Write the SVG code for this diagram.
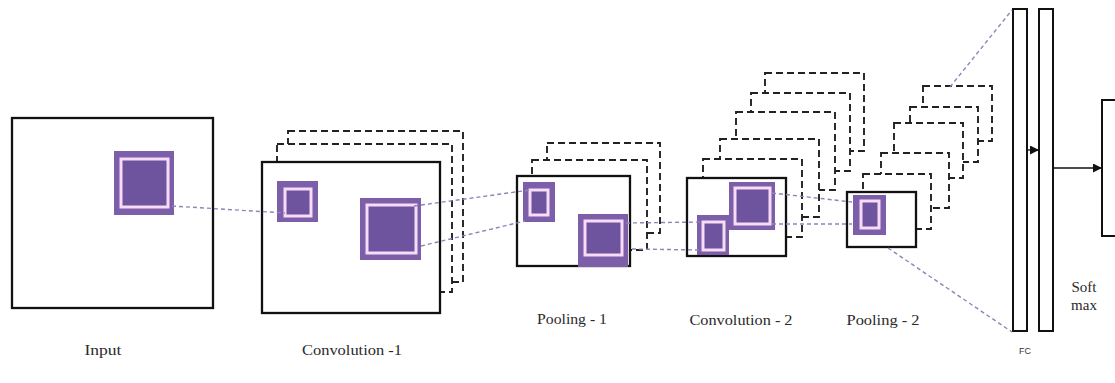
<svg xmlns="http://www.w3.org/2000/svg" width="1115" height="383" viewBox="0 0 1115 383">
<style>
.frame{fill:#fff;stroke:#111;stroke-width:2.3}
.layer{fill:#fff;stroke:#222;stroke-width:1.9;stroke-dasharray:7 4}
.po{fill:#7c5fa8}
.pi{fill:#6e539e;stroke:#f6dcf6;stroke-width:3}
.conn{fill:none;stroke:#8f84b8;stroke-width:1.4;stroke-dasharray:4 3}
.lbl{font-family:"Liberation Serif","Times New Roman",serif;font-size:15px;fill:#2a2a2a;text-anchor:middle}
.bar{fill:#fff;stroke:#111;stroke-width:2}
.arr{stroke:#111;stroke-width:1.3;fill:none;marker-end:url(#ah)}
</style>
<defs>
<marker id="ah" viewBox="0 0 10 10" refX="10" refY="5" markerWidth="9" markerHeight="9" markerUnits="userSpaceOnUse" orient="auto">
<path d="M0,0 L10,5 L0,10 z" fill="#111"/>
</marker>
</defs>
<rect width="1115" height="383" fill="#fff"/>

<g id="input">
<rect class="frame" x="12" y="118" width="201" height="190"/>
<rect class="po" x="114" y="151" width="60" height="64"/>
<rect class="pi" x="121" y="159" width="47" height="48"/>
<text class="lbl" x="103" y="355" textLength="37" lengthAdjust="spacingAndGlyphs">Input</text>
</g>

<g id="conv1">
<rect class="layer" x="288" y="131" width="175" height="151"/>
<rect class="layer" x="277" y="144" width="175" height="148"/>
<rect class="frame" x="262" y="162" width="178" height="151"/>
<rect class="po" x="277" y="181" width="41" height="41"/>
<rect class="pi" x="285" y="189" width="26" height="27"/>
<rect class="po" x="360" y="198" width="61" height="62"/>
<rect class="pi" x="367" y="205" width="49" height="48"/>
<text class="lbl" x="352" y="355" textLength="100" lengthAdjust="spacingAndGlyphs">Convolution -1</text>
</g>

<g id="pool1">
<rect class="layer" x="547" y="143" width="113" height="90"/>
<rect class="layer" x="532" y="160" width="115" height="90"/>
<rect class="frame" x="517" y="176" width="113" height="90"/>
<rect class="po" x="523" y="182" width="32" height="40"/>
<rect class="pi" x="530" y="190" width="18" height="25"/>
<rect class="po" x="578" y="214" width="50" height="53"/>
<rect class="pi" x="585" y="221" width="37" height="34"/>
<text class="lbl" x="572" y="324" textLength="70" lengthAdjust="spacingAndGlyphs">Pooling - 1</text>
</g>

<g id="conv2">
<rect class="layer" x="765" y="73" width="99" height="78"/>
<rect class="layer" x="751" y="93" width="99" height="78"/>
<rect class="layer" x="736" y="112" width="99" height="78"/>
<rect class="layer" x="720" y="139" width="99" height="78"/>
<rect class="layer" x="703" y="159" width="99" height="78"/>
<rect class="frame" x="687" y="178" width="99" height="78"/>
<rect class="po" x="729" y="182" width="46" height="48"/>
<rect class="pi" x="735" y="188" width="35" height="36"/>
<rect class="po" x="697" y="215" width="32" height="40"/>
<rect class="pi" x="703" y="222" width="21" height="28"/>
<text class="lbl" x="741" y="325" textLength="103" lengthAdjust="spacingAndGlyphs">Convolution - 2</text>
</g>

<g id="pool2">
<rect class="layer" x="923" y="86" width="69" height="55"/>
<rect class="layer" x="910" y="107" width="68" height="55"/>
<rect class="layer" x="894" y="123" width="69" height="55"/>
<rect class="layer" x="881" y="153" width="68" height="55"/>
<rect class="layer" x="863" y="174" width="68" height="55"/>
<rect class="frame" x="847" y="192" width="69" height="55"/>
<rect class="po" x="853" y="195" width="33" height="40"/>
<rect class="pi" x="861" y="201" width="18" height="27"/>
<text class="lbl" x="883" y="325" textLength="73" lengthAdjust="spacingAndGlyphs">Pooling - 2</text>
</g>

<g id="fc">
<rect class="bar" x="1013" y="9" width="14" height="322"/>
<rect class="bar" x="1039" y="9" width="14" height="322"/>
<text x="1025" y="354" font-family="Liberation Sans,Arial,sans-serif" font-size="9" fill="#333" text-anchor="middle">FC</text>
</g>

<g id="softmax">
<rect class="bar" x="1102" y="100" width="30" height="136"/>
<text class="lbl" x="1084" y="292">Soft</text>
<text class="lbl" x="1084" y="310">max</text>
</g>

<g id="connectors">
<line class="conn" x1="172" y1="206" x2="285" y2="213"/>
<line class="conn" x1="414" y1="206" x2="530" y2="190"/>
<line class="conn" x1="421" y1="246" x2="525" y2="221"/>
<line class="conn" x1="626" y1="223" x2="703" y2="222"/>
<line class="conn" x1="632" y1="249" x2="700" y2="250"/>
<line class="conn" x1="772" y1="193" x2="852" y2="202"/>
<line class="conn" x1="772" y1="224" x2="852" y2="224"/>
<line class="conn" x1="950" y1="87" x2="1012" y2="10"/>
<line class="conn" x1="888" y1="248" x2="1012" y2="332"/>
<line class="arr" x1="1027" y1="150" x2="1039" y2="150"/>
<line class="arr" x1="1053" y1="168" x2="1102" y2="168"/>
</g>
</svg>
